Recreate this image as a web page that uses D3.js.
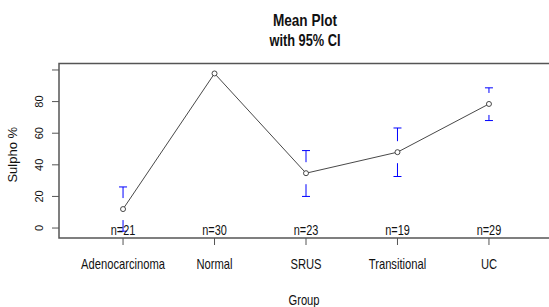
<!DOCTYPE html>
<meta charset="utf-8">
<style>
	body { margin: 0; background: #fff; }
	text { font-family: "Liberation Sans", Arial, Helvetica, sans-serif; fill: #111; }
	.title { font-weight: bold; }
	.frame { fill: none; stroke: #555; stroke-width: 1.5px; }
	.tick line, .yaxis line { stroke: #555; }
	.mean_line { fill: none; stroke: #333; stroke-width: 0.9px; }
	.ci { stroke: blue; stroke-width: 1px; }
</style>
<body>
<div id="chart"></div>
<script src="https://d3js.org/d3.v7.min.js"></script>
<script>
	// data
	var groups = ["Adenocarcinoma", "Normal", "SRUS", "Transitional", "UC"];
	var means = [12, 97.8, 34.7, 48, 78.5];
	var ci_upper = [26, 99, 49, 63.3, 88.7];
	var ci_lower = [-2, 96.5, 20, 32.6, 68];
	var counts = [21, 30, 23, 19, 29];
	var y_ticks = [0, 20, 40, 60, 80, 100];
	var y_labels = ["0", "20", "40", "60", "80", ""];

	var width = 549, height = 307;
	var box = {left: 59, right: 553, top: 63.5, bottom: 238};

	// R style extended limits
	var x = d3.scaleLinear().domain([0.3, 5.7]).range([box.left, box.right]);
	var y = d3.scaleLinear().domain([-6.3, 104.1]).range([box.bottom, box.top]);

	var svg = d3.select("#chart").append("svg")
			.attr("width", width)
			.attr("height", height);

	// the original text is drawn condensed
	function label(px, py, txt, size, squeeze, cls) {
		return svg.append("text")
				.attr("class", cls || null)
				.attr("transform", "translate(" + px + "," + py + ") scale(" + squeeze + ",1)")
				.attr("text-anchor", "middle")
				.style("font-size", size + "px")
				.text(txt);
	}

	// title
	label(305, 25.5, "Mean Plot", 16, 0.85, "title");
	label(305, 45.5, "with 95% CI", 16, 0.8, "title");

	// y axis
	var yaxis = svg.append("g").attr("class", "yaxis");
	yaxis.selectAll("line").data(y_ticks).enter().append("line")
			.attr("x1", box.left - 7).attr("x2", box.left)
			.attr("y1", function (d) { return y(d); })
			.attr("y2", function (d) { return y(d); });
	yaxis.selectAll("text").data(y_ticks).enter().append("text")
			.attr("transform", function (d) { return "translate(43," + y(d) + ") rotate(-90)"; })
			.attr("text-anchor", "middle")
			.style("font-size", "11px")
			.text(function (d, i) { return y_labels[i]; });

	svg.append("text")
			.attr("transform", "translate(17," + ((box.top + box.bottom) / 2 + 4) + ") rotate(-90)")
			.attr("text-anchor", "middle")
			.style("font-size", "13px")
			.text("Sulpho %");

	// x axis
	var xaxis = svg.append("g").attr("class", "tick");
	xaxis.selectAll("line").data(groups).enter().append("line")
			.attr("x1", function (d, i) { return x(i + 1); })
			.attr("x2", function (d, i) { return x(i + 1); })
			.attr("y1", box.bottom).attr("y2", box.bottom + 7);
	groups.forEach(function (g, i) {
		label(x(i + 1), 269, g, 14, 0.8);
	});

	label((box.left + box.right) / 2 - 2, 305, "Group", 14, 0.8);

	// mean line
	var pts = means.map(function (m, i) { return [x(i + 1), y(m)]; });
	svg.append("path").attr("class", "mean_line").attr("d", d3.line()(pts));

	// confidence bars, with a gap round the point
	var gap = 11, cap = 4;
	var bars = svg.append("g");
	groups.forEach(function (g, i) {
		var cx = x(i + 1), cy = y(means[i]);
		[ci_upper[i], ci_lower[i]].forEach(function (v) {
			var ey = y(v);
			var dir = ey < cy ? 1 : -1;
			if (Math.abs(ey - cy) > gap) {
				bars.append("line").attr("class", "ci")
						.attr("x1", cx).attr("x2", cx)
						.attr("y1", ey).attr("y2", cy - dir * gap);
			}
			if (Math.abs(ey - cy) > 2.5) {
				bars.append("line").attr("class", "ci")
						.attr("x1", cx - cap).attr("x2", cx + cap)
						.attr("y1", ey).attr("y2", ey);
			}
		});
	});

	// points
	svg.selectAll("circle").data(means).enter().append("circle")
			.attr("cx", function (d, i) { return x(i + 1); })
			.attr("cy", function (d) { return y(d); })
			.attr("r", 2.5)
			.attr("fill", "white")
			.attr("stroke", "#333")
			.attr("stroke-width", 0.9);

	// counts
	counts.forEach(function (n, i) {
		label(x(i + 1), 235, "n=" + n, 14, 0.78);
	});

	// frame
	svg.append("rect").attr("class", "frame")
			.attr("x", box.left).attr("y", box.top)
			.attr("width", box.right - box.left)
			.attr("height", box.bottom - box.top);
</script>
</body>
